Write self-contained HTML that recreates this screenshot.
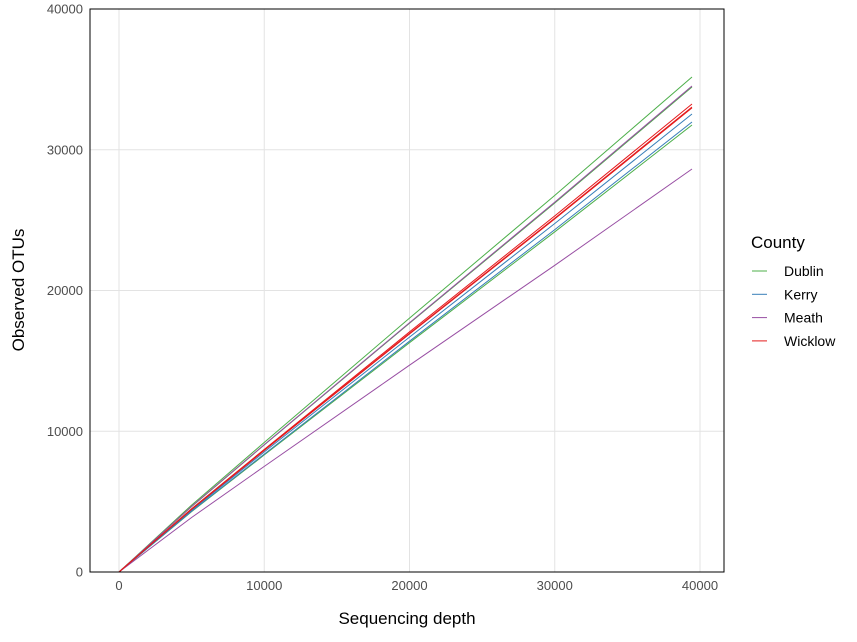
<!DOCTYPE html>
<html><head><meta charset="utf-8"><style>
body{margin:0;background:#fff;font-family:"Liberation Sans",Arial,sans-serif;}
svg text{font-family:"Liberation Sans",Arial,sans-serif;}
</style></head><body>
<svg id="chart" width="857" height="637" xmlns="http://www.w3.org/2000/svg">
<rect x="0" y="0" width="857" height="637" fill="#fff"/>
<g id="grid"></g>
<g id="series"></g>
<rect x="90" y="9" width="634" height="563" fill="none" stroke="#000" stroke-width="1"/>
<g id="xticks"></g>
<g id="yticks"></g>
<text x="407" y="624" font-size="17" text-anchor="middle" fill="#000">Sequencing depth</text>
<text transform="translate(24,290) rotate(-90)" font-size="17" text-anchor="middle" fill="#000">Observed OTUs</text>
<g id="legend">
<text x="751" y="248" font-size="17" fill="#000">County</text>
</g>
</svg>
<script>
const depths = [0, 5000, 10000, 20000, 30000, 39450];
const seriesCounty = ["Dublin","Dublin","Dublin","Kerry","Kerry","Meath","Meath","Wicklow","Wicklow","Wicklow"];
const dublin1 = [0,4750,9210,18040,26760,35170];
const dublin2 = [0,4650,9030,17680,26220,34460];
const dublin3 = [0,4290,8320,16290,24170,31760];
const kerry1 = [0,4390,8530,16690,24760,32540];
const kerry2 = [0,4320,8380,16400,24330,31970];
const meath1 = [0,4660,9050,17710,26280,34530];
const meath2 = [0,3870,7500,14690,21790,28630];
const wicklow1 = [0,4490,8710,17060,25300,33250];
const wicklow2 = [0,4460,8660,16950,25140,33040];
const wicklow3 = [0,4450,8640,16910,25090,32970];
const seriesValues = [dublin1,dublin2,dublin3,kerry1,kerry2,meath1,meath2,wicklow1,wicklow2,wicklow3];
const counties = ["Dublin","Kerry","Meath","Wicklow"];
const xTicks = [0,10000,20000,30000,40000];
const yTicks = [0,10000,20000,30000,40000];

const colors = {Dublin:"#4DAF4A",Kerry:"#377EB8",Meath:"#984EA3",Wicklow:"#E41A1C"};
const NS="http://www.w3.org/2000/svg";
const xs = v => 119 + v*(700-119)/40000;
const ys = v => 572 - v*(572-9)/40000;
function mk(tag, attrs, parent){const e=document.createElementNS(NS,tag);for(const k in attrs)e.setAttribute(k,attrs[k]);parent.appendChild(e);return e;}
const grid=document.getElementById('grid'), xg=document.getElementById('xticks'), yg=document.getElementById('yticks');
xTicks.forEach(t=>{
  const l=mk('line',{x1:xs(t),x2:xs(t),y1:9,y2:572,stroke:"#e3e3e3","stroke-width":1},grid);
  
  
  const tx=mk('text',{x:xs(t),y:590,"font-size":13,"text-anchor":"middle",fill:"#4d4d4d"},xg);
  tx.textContent=t;
  
  
});
yTicks.forEach(t=>{
  const l=mk('line',{x1:90,x2:724,y1:ys(t),y2:ys(t),stroke:"#e3e3e3","stroke-width":1},grid);
  
  
  const tx=mk('text',{x:83,y:ys(t)+4.5,"font-size":13,"text-anchor":"end",fill:"#4d4d4d"},yg);
  tx.textContent=t;
  
  
});
const sg=document.getElementById('series');
seriesValues.forEach((vals,i)=>{
  const pts=vals.map((v,j)=>xs(depths[j]).toFixed(1)+","+ys(v).toFixed(1)).join(" ");
  const p=mk('polyline',{points:pts,fill:"none",stroke:colors[seriesCounty[i]],"stroke-width":1},sg);
  
  
});
const lg=document.getElementById('legend');
counties.forEach((c,i)=>{
  const y=271+i*23.3;
  const l=mk('line',{x1:752,x2:767,y1:y,y2:y,stroke:colors[c],"stroke-width":1},lg);
  
  
  const t=mk('text',{x:784,y:y+5,"font-size":14,fill:"#000"},lg);
  t.textContent=c;
  
  
});
</script>
</body></html>
